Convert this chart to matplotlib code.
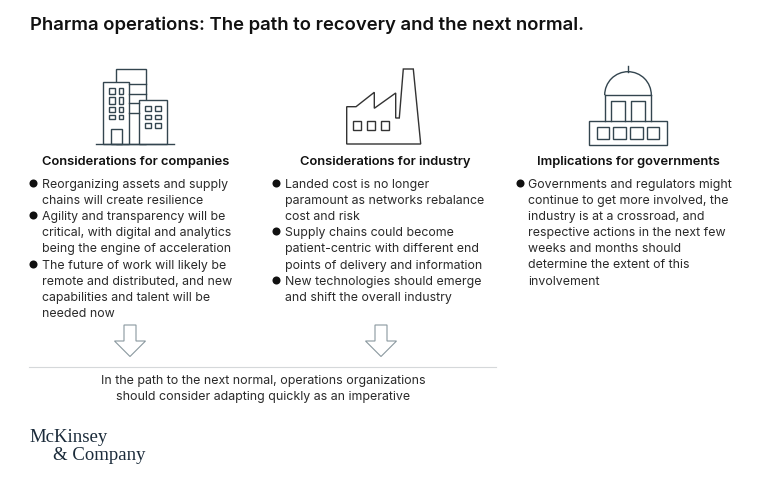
import matplotlib
matplotlib.use('Agg')
import matplotlib.pyplot as plt
from matplotlib.patches import Rectangle, Polygon, Arc

title = 'Pharma operations: The path to recovery and the next normal.'
headers = ['Considerations for companies', 'Considerations for industry', 'Implications for governments']
column_lines = [
    [(True, 'Reorganizing assets and supply'), (False, 'chains will create resilience'),
     (True, 'Agility and transparency will be'), (False, 'critical, with digital and analytics'),
     (False, 'being the engine of acceleration'), (True, 'The future of work will likely be'),
     (False, 'remote and distributed, and new'), (False, 'capabilities and talent will be'),
     (False, 'needed now')],
    [(True, 'Landed cost is no longer'), (False, 'paramount as networks rebalance'),
     (False, 'cost and risk'), (True, 'Supply chains could become'),
     (False, 'patient-centric with different end'), (False, 'points of delivery and information'),
     (True, 'New technologies should emerge'), (False, 'and shift the overall industry')],
    [(True, 'Governments and regulators might'), (False, 'continue to get more involved, the'),
     (False, 'industry is at a crossroad, and'), (False, 'respective actions in the next few'),
     (False, 'weeks and months should'), (False, 'determine the extent of this'),
     (False, 'involvement')],
]
footer = ['In the path to the next normal, operations organizations',
          'should consider adapting quickly as an imperative']
logo = ['McKinsey', '& Company']

header_x = [136, 385, 628]
bullet_x = [33, 276, 520]
text_x = [42, 285, 528]

dark = '#1b2b3a'
icon_col = '#33454f'
text_col = '#2a2a2a'
lw = 1.0

plt.rcParams['font.family'] = ['Inter', 'DejaVu Sans']

fig = plt.figure(figsize=(7.59, 4.83), dpi=100)
ax = fig.add_axes([0, 0, 1, 1])
ax.set_xlim(0, 759)
ax.set_ylim(483, 0)
ax.axis('off')


def box(x0, y0, x1, y1, fc='none', ec=icon_col):
    ax.add_patch(Rectangle((x0, y0), x1 - x0, y1 - y0, fill=fc != 'none', facecolor=fc, edgecolor=ec, lw=lw))


def down_arrow(cx):
    pts = [(cx - 6, 325), (cx + 6, 325), (cx + 6, 341), (cx + 15.5, 341), (cx, 356.5), (cx - 15.5, 341), (cx - 6, 341)]
    ax.add_patch(Polygon(pts, closed=True, fill=False, edgecolor='#8a989f', lw=0.8))


ax.text(30, 25.5, title, fontsize=13.35, fontweight='semibold', color='#111111', va='center', ha='left')

# buildings
box(115.7, 69, 146, 144)
box(103, 82, 129, 144, fc='white')
box(139, 100, 167, 144, fc='white')
for y in [84, 94, 103, 113]:
    ax.plot([129, 146 if y < 100 else 139], [y, y], color=icon_col, lw=lw)
ax.plot([96, 174], [144, 144], color=icon_col, lw=lw)
for y0, y1 in [(88, 94), (97, 104), (107, 112), (115, 119)]:
    box(108.7, y0, 115, y1)
    box(119, y0, 123, y1)
box(110.5, 129, 121.5, 144)
for y0, y1 in [(106, 111), (115, 119), (123, 128)]:
    box(145, y0, 151, y1)
    box(155, y0, 161, y1)

# factory
factory = [(346.7, 144), (346.7, 106.7), (356, 106.7), (374.3, 92.3), (374.3, 108.3), (395.7, 93),
           (395.7, 118), (399.3, 118), (403.3, 69), (413.3, 69), (420.7, 144)]
ax.add_patch(Polygon(factory, closed=True, fill=False, edgecolor='#333333', lw=lw))
for x0 in [352.7, 366.7, 380.7]:
    box(x0, 120.7, x0 + 8, 130.3, ec='#333333')

# dome
ax.add_patch(Arc((628, 95), 46.6, 46.6, theta1=180, theta2=360, color=icon_col, lw=lw))
ax.plot([628, 628], [66, 72], color=icon_col, lw=lw)
ax.plot([604.7, 651.3], [95, 95], color=icon_col, lw=lw)
ax.plot([604.7, 604.7], [95, 120.7], color=icon_col, lw=lw)
ax.plot([651.3, 651.3], [95, 120.7], color=icon_col, lw=lw)
for x0, x1 in [(610.7, 624.7), (631.3, 645.3)]:
    ax.plot([x0, x0, x1, x1], [120.7, 101.3, 101.3, 120.7], color=icon_col, lw=lw)
box(589, 120.7, 667, 145)
for x0 in [596.7, 613.3, 630, 646.7]:
    box(x0, 126.7, x0 + 12.6, 139)

# columns
for i in range(3):
    ax.text(header_x[i], 162, headers[i], fontsize=9.3, fontweight='semibold', color='#111111', ha='center', va='center')
    y = 185
    for has_bullet, line in column_lines[i]:
        if has_bullet:
            ax.plot(bullet_x[i], y - 2, 'o', color='#111111', ms=5.8, mew=0)
        ax.text(text_x[i], y, line, fontsize=8.9, color=text_col, ha='left', va='center')
        y += 16.1

down_arrow(130)
down_arrow(381)

ax.plot([29, 496], [367, 367], color='#d5d8da', lw=0.8)
ax.text(263, 381, footer[0], fontsize=8.95, color=text_col, ha='center', va='center')
ax.text(263, 397, footer[1], fontsize=8.95, color=text_col, ha='center', va='center')

ax.text(29, 437, logo[0], fontsize=13.5, family='Liberation Serif', color=dark, ha='left', va='center')
ax.text(53, 456, logo[1], fontsize=13.5, family='Liberation Serif', color=dark, ha='left', va='center')

fig.savefig('out.png', dpi=100)
